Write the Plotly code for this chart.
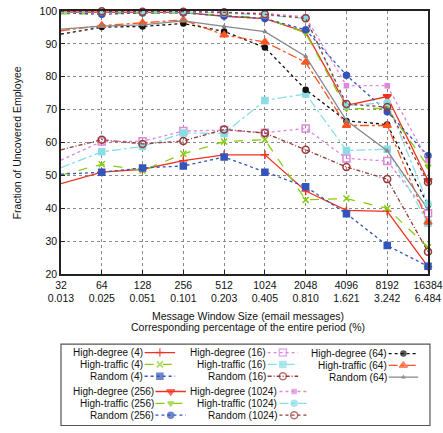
import plotly.graph_objects as go
import math

# ---------------- data ----------------
windows = [32, 64, 128, 256, 512, 1024, 2048, 4096, 8192, 16384]
pct_labels = ["0.013", "0.025", "0.051", "0.101", "0.203", "0.405", "0.810", "1.621", "3.242", "6.484"]
y_ticks = [20, 30, 40, 50, 60, 70, 80, 90, 100]

hd4 = [47.5, 51.0, 51.9, 54.5, 56.3, 56.3, 45.3, 39.4, 39.1, 22.3]
ht4 = [50.1, 53.4, 51.5, 56.6, 60.3, 60.9, 42.6, 43.0, 40.0, 28.2]
r4 = [50.4, 51.0, 52.3, 52.9, 55.6, 51.0, 46.6, 38.4, 28.7, 22.4]
hd16 = [54.7, 60.3, 60.4, 63.5, 63.8, 63.0, 64.3, 55.2, 54.4, 38.5]
ht16 = [52.4, 57.2, 58.8, 62.9, 62.8, 72.8, 74.8, 57.6, 58.0, 35.5]
r16 = [57.8, 60.9, 59.6, 60.5, 64.0, 62.9, 57.8, 52.6, 48.9, 26.8]
hd64 = [93.0, 95.1, 95.3, 96.2, 93.8, 88.9, 76.1, 66.6, 65.5, 41.0]
ht64 = [94.0, 95.6, 96.4, 97.3, 92.7, 90.6, 84.4, 65.2, 65.2, 35.8]
r64 = [94.5, 95.4, 95.8, 97.0, 95.3, 93.7, 86.2, 66.7, 57.5, 39.8]
hd256 = [99.7, 99.7, 99.6, 99.6, 98.4, 97.7, 93.6, 71.3, 74.0, 48.5]
ht256 = [99.1, 99.3, 99.3, 99.4, 98.7, 97.9, 93.3, 70.3, 70.4, 52.8]
r256 = [99.5, 99.0, 99.4, 99.4, 98.5, 97.7, 94.3, 80.5, 69.4, 56.0]
hd1024 = [99.9, 99.9, 99.9, 99.9, 99.6, 99.3, 98.2, 77.3, 77.3, 54.5]
ht1024 = [99.6, 99.8, 99.7, 99.7, 99.3, 98.8, 97.7, 71.2, 72.2, 41.5]
r1024 = [99.8, 99.9, 99.8, 99.8, 99.6, 99.0, 97.8, 71.7, 70.8, 48.0]

# ---------------- styles ----------------
RED = "#ee3322"
GREEN = "#88cc11"
BLUE = "#3355bb"
VIOLET = "#dd88dd"
CYAN = "#88dde6"
DRED = "#993838"
BLACK = "#111111"
ORANGE = "#ff5522"
GRAY = "#888888"

series = [
    # name, values, color, dash, symbol, size
    ("High-degree (4)", hd4, RED, "solid", "cross-thin-open", 6),
    ("High-traffic (4)", ht4, GREEN, "dash", "x-thin-open", 6),
    ("Random (4)", r4, BLUE, "dot", "square", 6),
    ("High-degree (16)", hd16, VIOLET, "dot", "square-open", 7),
    ("High-traffic (16)", ht16, CYAN, "dashdot", "square", 6),
    ("Random (16)", r16, DRED, "4px,2px,1px,2px", "circle-open", 7),
    ("High-degree (64)", hd64, BLACK, "dot", "circle", 5),
    ("High-traffic (64)", ht64, ORANGE, "dashdot", "triangle-up", 7),
    ("Random (64)", r64, GRAY, "solid", "triangle-up", 3),
    ("High-degree (256)", hd256, RED, "solid", "triangle-down", 7),
    ("High-traffic (256)", ht256, GREEN, "dash", "triangle-down", 5),
    ("Random (256)", r256, BLUE, "dot", "circle", 6),
    ("High-degree (1024)", hd1024, VIOLET, "dot", "square", 4),
    ("High-traffic (1024)", ht1024, CYAN, "dashdot", "circle", 6),
    ("Random (1024)", r1024, DRED, "dot", "circle-open", 7),
]

FONT = "Liberation Sans, Arial, sans-serif"
FS = 10.5
LFS = 10

W, H = 443, 433
L, R, T, B = 61, 9, 11, 0
PW = W - L - R
PH = H - T - B
Y_BOTTOM_PIX = 278  # pixel row of the main plot bottom


def px_x(x):
    return (x - L) / PW


def px_y(y):
    return (H - B - y) / PH


fig = go.Figure()

for name, vals, color, dash, sym, size in series:
    fig.add_trace(go.Scatter(
        x=windows, y=vals, mode="lines+markers", name=name,
        line=dict(color=color, width=1.3, dash=dash),
        marker=dict(symbol=sym, size=size, color=color,
                    line=dict(color=color, width=1.5)),
        showlegend=False, cliponaxis=False,
    ))

# ---------------- manual legend (text left, sample right) ----------------
g1 = [357.5, 369.5, 381.5]
g1c = [358.5, 370.5, 382.5]
g2 = [397, 409, 421]
col_specs = [
    ([0, 1, 2], 145, 146, 177, g1),
    ([3, 4, 5], 270.5, 271, 302, g1),
    ([6, 7, 8], 393, 394, 424, g1c),
    ([9, 10, 11], 156.5, 157, 188, g2),
    ([12, 13, 14], 282, 283, 313, g2),
]
annotations = []
for idxs, tx, x0, x1, ys in col_specs:
    for i, yy in zip(idxs, ys):
        name, vals, color, dash, sym, size = series[i]
        fig.add_trace(go.Scatter(
            x=[x0, (x0 + x1) / 2, x1], y=[yy, yy, yy], mode="lines+markers",
            xaxis="x2", yaxis="y2", showlegend=False, hoverinfo="skip",
            line=dict(color=color, width=1.3, dash=dash),
            marker=dict(symbol=sym, size=[0, size, 0], color=color,
                        line=dict(color=color, width=1.5)),
            cliponaxis=False,
        ))
        annotations.append(dict(
            x=px_x(tx), y=px_y(yy), xref="paper", yref="paper",
            text=name, showarrow=False, xanchor="right", yanchor="middle",
            borderpad=0,
            font=dict(family=FONT, size=LFS, color="#111"),
        ))

# axis titles
annotations.append(dict(x=px_x(16), y=px_y(144.5), xref="paper", yref="paper",
                        text="Fraction of Uncovered Employee", textangle=-90,
                        showarrow=False, xanchor="center", yanchor="middle",
                        font=dict(family=FONT, size=FS, color="#111")))
annotations.append(dict(x=px_x(251), y=px_y(320), xref="paper", yref="paper",
                        text="Message Window Size (email messages)",
                        showarrow=False, xanchor="center", yanchor="middle",
                        borderpad=0,
                        font=dict(family=FONT, size=FS, color="#111")))
annotations.append(dict(x=px_x(251), y=px_y(331.5), xref="paper", yref="paper",
                        text="Corresponding percentage of the entire period (%)",
                        showarrow=False, xanchor="center", yanchor="middle",
                        borderpad=0,
                        font=dict(family=FONT, size=FS, color="#111")))

shapes = [dict(type="rect", xref="paper", yref="paper",
               x0=px_x(61), x1=px_x(436), y0=px_y(349), y1=px_y(431.5),
               line=dict(color="#555", width=1.2), fillcolor="rgba(0,0,0,0)")]

main_dom_bottom = px_y(Y_BOTTOM_PIX)

fig.update_layout(
    width=W, height=H,
    margin=dict(l=L, r=R, t=T, b=B),
    paper_bgcolor="white", plot_bgcolor="white",
    font=dict(family=FONT, size=FS, color="#111"),
    xaxis=dict(
        type="log", range=[math.log10(32), math.log10(16384)],
        tickvals=windows,
        ticktext=[f"{w}<br>{p}" for w, p in zip(windows, pct_labels)],
        tickangle=0, ticklabeloverflow="allow",
        showgrid=True, gridcolor="#8a8a8a", griddash="dot", gridwidth=1,
        showline=True, linecolor="#222", linewidth=1.5, mirror=True,
        ticks="inside", ticklen=4, tickcolor="#222",
        zeroline=False, anchor="y",
        tickfont=dict(family=FONT, size=FS, color="#111"),
    ),
    yaxis=dict(
        domain=[main_dom_bottom, 1], range=[20, 100],
        tickvals=y_ticks,
        showgrid=True, gridcolor="#8a8a8a", griddash="dot", gridwidth=1,
        showline=True, linecolor="#222", linewidth=1.5, mirror=True,
        ticks="inside", ticklen=4, tickcolor="#222",
        zeroline=False, anchor="x",
        tickfont=dict(family=FONT, size=FS, color="#111"),
    ),
    xaxis2=dict(domain=[0, 1], range=[L, W - R], visible=False, anchor="y2"),
    yaxis2=dict(domain=[0, main_dom_bottom], range=[H - B, Y_BOTTOM_PIX],
                visible=False, anchor="x2"),
    annotations=annotations,
    shapes=shapes,
)

fig.write_html("out.html")
